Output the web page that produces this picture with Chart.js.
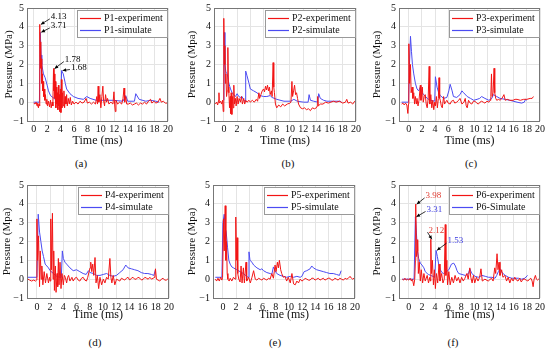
<!DOCTYPE html>
<html>
<head>
<meta charset="utf-8">
<script src="https://cdn.jsdelivr.net/npm/chart.js@4.4.1/dist/chart.umd.min.js"></script>
<style>
  body { margin: 0; background: #fff; width: 550px; height: 349px; position: relative; overflow: hidden; font-family: "Liberation Serif", serif; }
  canvas { position: absolute; }
  .cap { position: absolute; font-size: 11px; color: #111; transform: translate(-50%, -50%); white-space: nowrap; }
</style>
</head>
<body>
<script>
// tick values shared by all six panels
const xTicks = [0, 2, 4, 6, 8, 10, 12, 14, 16, 18, 20];
const yTicks = [-1, 0, 1, 2, 3, 4, 5];

// series as [time (ms), pressure (MPa)]
const p1Exp = [[0,-0.05],[0.2,-0.1],[0.35,0],[0.5,-0.2],[0.6,-0.05],[0.7,-0.3],[0.8,-0.1],[0.88,-0.2],[0.92,4.13],[0.97,2.6],[1.02,3.2],[1.08,1.8],[1.14,2.3],[1.2,1],[1.26,1.5],[1.32,0.6],[1.4,1.1],[1.48,0.3],[1.56,0.7],[1.65,0.1],[1.75,0.4],[1.85,-0.1],[1.95,0.15],[2.05,-0.2],[2.2,0.05],[2.35,-0.25],[2.5,0.1],[2.6,-0.3],[2.75,0],[2.85,-0.2],[2.95,1.78],[3.02,0.6],[3.08,1.5],[3.15,0.2],[3.22,1.1],[3.3,-0.3],[3.38,0.8],[3.45,-0.1],[3.52,0.5],[3.6,-0.4],[3.68,0.9],[3.75,-0.2],[3.82,0.4],[3.9,-0.5],[3.97,0.7],[4.05,-0.55],[4.12,1.2],[4.2,-0.3],[4.3,0.5],[4.4,-0.2],[4.5,0.6],[4.6,-0.3],[4.7,0.3],[4.8,-0.1],[4.9,0.4],[5,-0.2],[5.15,0.2],[5.3,-0.1],[5.45,0.25],[5.6,-0.15],[5.8,0.05],[6,-0.1],[6.3,0],[6.6,-0.1],[6.9,0.05],[7.2,-0.05],[7.5,0],[7.8,0.2],[8,-0.05],[8.3,0],[8.6,-0.1],[8.9,0],[9.2,-0.1],[9.4,0.3],[9.5,-0.1],[9.6,0.85],[9.7,0],[9.85,0.4],[10,-0.3],[10.15,0.3],[10.3,0.85],[10.4,0.1],[10.55,-0.2],[10.7,0.4],[10.85,0],[11,0.2],[11.2,-0.1],[11.5,0],[11.8,-0.1],[11.95,0.55],[12.05,-0.1],[12.15,-0.5],[12.25,0.1],[12.5,-0.1],[12.8,0],[13.1,-0.1],[13.3,0.2],[13.45,0.75],[13.55,0],[13.7,0.3],[13.85,-0.1],[14.1,-0.1],[14.4,-0.05],[14.7,-0.15],[15,-0.1],[15.3,-0.05],[15.6,-0.15],[15.9,-0.05],[16.2,-0.1],[16.5,0],[16.8,-0.1],[17.1,0.05],[17.4,0.15],[17.6,-0.05],[17.9,0.05],[18.2,-0.05],[18.5,0],[18.8,0.2],[19,0],[19.3,0.05],[19.6,-0.05],[20,-0.05]];
const p1Sim = [[0,0],[0.85,0],[0.98,3.71],[1.1,2.5],[1.2,2],[1.45,1.5],[1.7,1.3],[2,0.9],[2.2,0.6],[2.5,0.35],[2.85,0.25],[3.2,0.15],[3.7,0.05],[4.05,0],[4.15,1.68],[4.4,1.5],[4.7,1],[4.9,0.7],[5.4,0.45],[5.9,0.3],[6.6,0.2],[7.4,0.15],[7.9,0.3],[8.4,0.2],[9.3,0.1],[10.8,0.1],[11.8,0.1],[13.3,0.05],[13.7,0.35],[14,0.05],[15,0.05],[15.2,0.45],[15.7,0.15],[16.7,0.05],[17.4,0.1],[18.2,0.05],[18.7,0]];

const p2Exp = [[-1.3,-0.1],[-1.1,0],[-0.95,-0.15],[-0.8,0.1],[-0.75,0.5],[-0.7,-0.05],[-0.5,0.05],[-0.35,-0.1],[-0.2,0.1],[-0.1,-0.5],[-0.03,0],[0,4.45],[0.08,2],[0.15,3],[0.22,1],[0.3,1.5],[0.4,0.3],[0.5,0.6],[0.6,2.9],[0.68,0.8],[0.75,0.5],[0.85,-0.3],[0.95,0.3],[1,-0.6],[1.1,0.5],[1.2,-0.65],[1.3,0.3],[1.4,-0.3],[1.5,0.9],[1.6,-0.1],[1.75,0.2],[1.85,-0.2],[2,0.3],[2.15,-0.1],[2.3,0.2],[2.5,0],[2.65,0.3],[2.8,-0.1],[3,0.2],[3.15,-0.1],[3.3,0.1],[3.5,0],[3.8,0.1],[4,0],[4.3,0.1],[4.6,0],[4.9,0.15],[5.1,0.05],[5.3,0.5],[5.4,0.2],[5.6,0.4],[5.8,0.6],[6,0.7],[6.15,0.55],[6.3,0.85],[6.45,0.65],[6.6,0.9],[6.75,0.6],[6.9,0.8],[7,0.4],[7.2,0.6],[7.3,0.3],[7.45,2.1],[7.55,0.8],[7.65,0.5],[7.8,-0.1],[8,-0.3],[8.3,-0.15],[8.6,-0.25],[8.9,-0.1],[9.2,-0.2],[9.6,-0.1],[10,-0.05],[10.15,0],[10.3,1.1],[10.4,0.3],[10.55,0.6],[10.7,0.9],[10.85,0.4],[11,0.5],[11.15,0.2],[11.3,-0.1],[11.6,-0.3],[11.9,-0.35],[12.2,-0.3],[12.5,-0.4],[12.8,-0.35],[13.1,-0.45],[13.4,-0.3],[13.7,-0.35],[14,-0.3],[14.15,-0.2],[14.2,0.3],[14.3,-0.2],[14.6,-0.1],[15,-0.1],[15.4,0],[15.8,-0.05],[16.2,0],[16.6,0.05],[17,0],[17.5,0.05],[18,-0.05],[18.4,0],[18.6,0.15],[18.8,-0.05],[19.2,0],[19.5,-0.1],[19.8,0.05],[20,0.1]];
const p2Sim = [[0,0.1],[0.05,3.7],[0.15,2],[0.3,1.6],[0.5,1.5],[0.75,1],[1,0.7],[1.25,0.5],[1.5,0.4],[1.75,0.3],[2,0.45],[2.25,0.3],[2.5,0.25],[2.75,0.3],[3,0.1],[3.2,0.05],[3.3,1.65],[3.5,1.4],[3.8,1],[4,0.7],[4.5,0.6],[5,0.5],[5.5,0.35],[6,0.3],[6.5,0.3],[7,0.35],[7.3,0.25],[8,0.15],[9.1,0.05],[10.1,0.05],[10.6,0.15],[11.1,0.05],[12.1,0],[12.75,0],[12.9,0.4],[13.1,0.1],[13.6,0.05],[14.2,0],[14.35,0.45],[14.6,0.2],[15.1,0.1],[15.6,0.05],[16.6,0.05],[17.6,0.05],[17.8,0]];

const p3Exp = [[-1.1,-0.1],[-0.9,-0.05],[-0.7,-0.15],[-0.5,-0.05],[-0.3,-0.15],[-0.15,-0.6],[-0.05,-0.1],[0,3.1],[0.12,1],[0.25,2],[0.35,0.5],[0.5,0.8],[0.62,0.2],[0.75,0.5],[0.88,-0.1],[1,0.3],[1.15,-0.1],[1.25,0.2],[1.4,-0.2],[1.55,0.1],[1.75,0.9],[1.85,0.1],[2.05,0.8],[2.2,0],[2.35,0.3],[2.5,0.4],[2.65,-0.1],[2.8,-0.3],[2.95,0.2],[3.1,1.9],[3.2,-0.1],[3.35,0.4],[3.5,-0.3],[3.65,0.1],[3.8,-0.4],[3.95,0],[4.05,-0.2],[4.2,0.3],[4.35,-0.3],[4.5,0.2],[4.6,1.3],[4.7,0.2],[4.8,0.1],[4.95,-0.2],[5.1,-0.3],[5.3,0.3],[5.45,-0.1],[5.6,0],[5.8,0.1],[6,-0.05],[6.3,-0.1],[6.5,0.05],[6.8,0.1],[7,-0.05],[7.3,0],[7.6,0.1],[7.8,0.2],[8.1,-0.1],[8.4,0],[8.6,0.2],[8.75,-0.2],[8.9,-0.3],[9.1,0.1],[9.35,-0.05],[9.6,-0.1],[9.85,0.05],[10.1,0.05],[10.35,-0.05],[10.6,-0.1],[10.85,0],[11.1,0.05],[11.35,0],[11.6,-0.05],[11.9,0.05],[12.2,0],[12.4,0.1],[12.5,0.3],[12.6,1.5],[12.7,0.3],[12.85,0.5],[13,1.8],[13.1,0.5],[13.25,0.2],[13.4,0.1],[13.7,0.15],[13.9,0.1],[14.2,0.2],[14.5,0.4],[14.7,0.1],[15,0.15],[15.4,0.1],[15.9,0.1],[16.2,0.15],[16.5,0.15],[17,0.1],[17.5,0.15],[18,0.15],[18.5,0.2],[18.8,0.2],[19,0.3]];
const p3Sim = [[-1.1,0],[-0.05,0],[0.1,2],[0.25,3.5],[0.4,2.7],[0.55,2],[0.75,1.5],[1,1],[1.25,0.7],[1.5,0.6],[1.75,0.8],[2,0.5],[2.3,0.4],[2.8,0.2],[3.3,0.1],[3.95,0.05],[4.05,1.35],[4.3,0.8],[4.55,0.5],[4.8,0.35],[5.3,0.2],[5.8,0.25],[6.1,0.6],[6.3,0.95],[6.6,0.6],[6.8,0.3],[7.3,0.25],[7.8,0.4],[8.1,0.6],[8.35,0.5],[8.9,0.3],[9.4,0.2],[9.9,0.1],[10.4,0.15],[10.8,0.2],[11.1,0.3],[11.6,0.2],[12.2,0.1],[12.65,0.2],[12.9,0.4],[13.4,0.3],[13.9,0.2],[14.7,0.15],[15.4,0.1],[16.5,0],[17.2,-0.05],[17.6,0],[17.8,0.15],[18,0.1]];

const p4Exp = [[-1.35,0],[-1.1,-0.05],[-0.8,-0.1],[-0.5,-0.05],[-0.2,-0.1],[-0.05,-0.05],[0,3.2],[0.1,1],[0.25,2.3],[0.4,-0.4],[0.5,1.5],[0.65,0],[0.75,0.7],[0.9,-0.3],[1.1,0.4],[1.3,-0.2],[1.5,0.3],[1.75,-0.2],[1.9,0.1],[2,-0.1],[2.1,3.2],[2.2,0.5],[2.35,3.5],[2.45,0],[2.55,1.5],[2.65,-0.6],[2.8,0.7],[2.9,-0.7],[3.05,0.3],[3.15,-0.4],[3.25,1.1],[3.35,-0.3],[3.5,0.9],[3.65,-0.5],[3.8,0.3],[4,-0.3],[4.15,0.2],[4.3,0.1],[4.5,-0.2],[4.65,0.1],[4.8,0.2],[5,-0.1],[5.3,0.1],[5.5,-0.1],[5.75,0.05],[6,0.1],[6.25,-0.05],[6.5,-0.1],[6.75,0.05],[7,0.1],[7.25,-0.05],[7.5,-0.1],[7.7,0.1],[7.9,0.4],[8.05,0.6],[8.15,0.9],[8.3,0.4],[8.45,0.8],[8.6,0.2],[8.8,1.15],[8.95,-0.2],[9.15,0.2],[9.35,-0.5],[9.55,0.1],[9.8,-0.3],[10.05,0],[10.3,-0.2],[10.55,0.1],[10.8,0],[11.05,1.1],[11.2,0.1],[11.35,-0.2],[11.55,0.2],[11.8,-0.3],[12.05,0],[12.3,-0.05],[12.55,-0.1],[12.8,0.05],[13.05,0],[13.3,-0.05],[13.55,0.05],[13.8,0.1],[14.05,-0.05],[14.3,0.05],[14.55,0.1],[14.8,0],[15.05,0],[15.3,0.1],[15.6,0.05],[15.85,-0.05],[16.1,0],[16.35,0.1],[16.6,0.05],[16.85,0],[17.1,0.1],[17.35,0],[17.6,0.05],[17.85,0.1],[17.95,0.55],[18.1,0],[18.35,-0.05],[18.6,-0.1],[18.85,0],[19.1,0.05],[19.35,-0.05],[19.6,-0.05],[19.8,0],[20,-0.05]];
const p4Sim = [[-1.35,0.1],[0,0.1],[0.2,3.45],[0.4,2.5],[0.6,2],[0.8,1.5],[1,1.2],[1.25,0.8],[1.5,0.7],[1.75,0.6],[2,0.45],[2.5,0.3],[3,0.15],[3.5,0.1],[3.7,0.1],[3.85,1.5],[4,1.1],[4.25,0.9],[4.5,0.8],[5,0.6],[5.5,0.45],[6,0.5],[6.5,0.4],[7,0.3],[7.45,0.25],[7.8,0.45],[8.05,0.35],[8.55,0.3],[9.05,0.2],[9.55,0.2],[10.05,0.25],[10.55,0.3],[11.05,0.2],[11.55,0.15],[12.05,0.2],[12.55,0.35],[13.05,0.5],[13.45,0.75],[13.8,0.6],[14.3,0.55],[14.8,0.5],[15.3,0.45],[15.8,0.35],[16.3,0.3],[16.8,0.3],[17.35,0.25],[17.7,0.2],[17.95,0.5]];

const p5Exp = [[-1.15,0],[-0.95,-0.1],[-0.75,0.05],[-0.55,-0.1],[-0.35,0.1],[-0.15,-0.05],[-0.05,0.1],[0.1,3.2],[0.2,1.5],[0.35,3.9],[0.45,1],[0.55,2],[0.65,0.3],[0.75,0],[0.95,-0.1],[1.1,0.05],[1.35,-0.1],[1.6,0.1],[1.85,0],[1.95,3.3],[2.05,1],[2.15,2.2],[2.25,0.3],[2.4,0],[2.6,-0.15],[2.75,0.7],[2.9,-0.2],[3.1,0.6],[3.25,-0.2],[3.5,0.9],[3.6,-0.1],[3.9,0.1],[4.15,-0.2],[4.4,0.1],[4.65,0.45],[4.9,0],[5.15,-0.05],[5.4,0.05],[5.65,0],[5.9,-0.05],[6.15,0.05],[6.4,0],[6.65,-0.05],[6.9,0.05],[7.15,0],[7.4,0.3],[7.65,0.05],[7.9,0.75],[8.05,0.4],[8.25,0.9],[8.4,0.6],[8.55,1],[8.75,0.5],[8.9,0.3],[9.15,0.1],[9.4,0.15],[9.65,-0.1],[9.9,0.1],[10.2,-0.2],[10.45,0.3],[10.7,-0.25],[10.95,-0.3],[11.2,-0.1],[11.45,-0.2],[11.7,0],[11.95,-0.1],[12.2,-0.05],[12.45,0.05],[12.7,0],[12.95,-0.05],[13.2,-0.05],[13.45,0.05],[13.7,0.05],[13.95,-0.05],[14.2,0],[14.45,0.05],[14.7,-0.05],[14.95,0],[15.2,0.05],[15.45,-0.05],[15.7,0],[15.95,0.05],[16.2,0.05],[16.45,-0.05],[16.7,-0.05],[16.95,0.05],[17.2,0],[17.45,-0.05],[17.7,0.05],[17.95,0],[18.25,-0.05],[18.5,0.05],[18.75,0],[19,0.05],[19.25,0.15],[19.45,0.05],[19.65,0],[19.85,0.05],[20,-0.05]];
const p5Sim = [[-1.15,0.1],[-0.15,0.1],[0,3],[0.2,3.45],[0.35,2.7],[0.5,2.5],[0.7,1.7],[0.9,1],[1.1,0.8],[1.35,0.65],[1.6,0.6],[2.1,0.5],[2.6,0.4],[3.1,0.3],[3.6,0.15],[3.8,0.1],[3.95,1.45],[4.1,1],[4.4,0.9],[4.65,0.75],[5.15,0.6],[5.65,0.5],[5.9,0.55],[6.15,0.45],[6.65,0.35],[7.15,0.3],[7.4,0.25],[7.65,0.65],[7.9,0.45],[8.15,0.3],[8.65,0.2],[9.15,0.15],[9.65,0.1],[10.2,0.15],[10.7,0.1],[11.2,0.15],[11.7,0.1],[11.95,0.15],[12.3,0.4],[12.7,0.45],[13.2,0.55],[13.45,0.7],[13.7,0.6],[14.2,0.5],[14.7,0.45],[15.2,0.4],[15.7,0.35],[16.2,0.3],[16.7,0.3],[17.2,0.25],[17.65,0.2],[17.9,0.45]];

const p6Exp = [[-1,0],[-0.8,-0.05],[-0.6,0.05],[-0.4,-0.05],[-0.2,0],[0,-0.05],[0.2,0.05],[0.4,-0.1],[0.55,0],[0.75,-0.35],[0.9,0],[1,1],[1.05,3.98],[1.15,1.2],[1.25,1.5],[1.35,2.1],[1.45,0.3],[1.6,0.9],[1.75,-0.1],[1.9,0.5],[2.1,-0.2],[2.3,0.3],[2.5,-0.1],[2.8,0.2],[3,-0.2],[3.2,0.1],[3.3,-0.1],[3.35,2.12],[3.45,0.3],[3.6,1],[3.75,-0.3],[3.9,0.5],[4.05,-0.5],[4.2,0.3],[4.4,-0.2],[4.6,0.8],[4.75,-0.1],[5,0.3],[5.2,-0.2],[5.4,0],[5.55,2.9],[5.65,0.2],[5.8,1],[5.9,-0.3],[6.1,0.4],[6.3,-0.3],[6.55,0.1],[6.8,-0.2],[7.05,0.2],[7.3,-0.1],[7.55,0.1],[7.8,-0.2],[8.05,0.1],[8.3,-0.1],[8.55,0.05],[8.85,0.3],[9.05,0],[9.3,0.6],[9.45,0.1],[9.65,-0.2],[9.85,0.2],[10.05,-0.2],[10.3,0.1],[10.55,-0.1],[10.8,0.1],[11,0.55],[11.2,-0.1],[11.6,0],[12.1,-0.1],[12.6,0.05],[12.85,-0.1],[13.1,0.6],[13.25,0.3],[13.45,1.35],[13.6,0.5],[13.75,0.9],[13.9,0.2],[14.15,0.5],[14.35,0.1],[14.65,0.2],[14.9,-0.1],[15.15,0.1],[15.4,-0.2],[15.65,0.05],[15.9,-0.1],[16.15,0.1],[16.4,-0.05],[16.65,-0.1],[16.9,0.05],[17.15,-0.15],[17.4,0],[17.65,0],[17.9,-0.05],[18.15,-0.1],[18.4,0],[18.6,0.05],[18.8,-0.1],[18.95,-0.4],[19.1,0],[19.3,0.2],[19.45,0],[19.6,-0.05],[19.8,0],[20,-0.05]];
const p6Sim = [[-1,0],[0.8,0],[1,3.31],[1.15,2.5],[1.3,1.5],[1.5,1.1],[1.75,0.85],[2,0.75],[2.3,0.6],[2.5,0.4],[2.8,0.3],[3,0.25],[3.3,0.2],[3.7,0.15],[3.95,0.1],[4.15,1.53],[4.35,1.2],[4.55,0.8],[4.8,0.5],[5.05,0.35],[5.3,0.3],[5.55,0.35],[6.1,0.5],[6.5,0.8],[6.85,0.85],[7.1,0.7],[7.35,0.45],[7.6,0.3],[8.1,0.25],[8.6,0.2],[9.1,0.3],[9.3,0.55],[9.6,0.3],[10.1,0.15],[10.6,0.1],[11.15,0.2],[11.65,0.15],[12.15,0.1],[12.65,0.1],[13.15,0.05],[13.4,0.2],[13.65,0.4],[13.9,0.55],[14.2,0.35],[14.7,0.2],[15.2,0.1],[15.7,0.05],[16.2,0.05],[16.7,0.05],[17.2,0],[17.7,0.05],[18.1,0.2]];

// peak call-outs: value point, label anchor (data units), label text
const p1Notes = [
  { at: [0.92, 4.13], pos: [2.55, 4.53], text: "4.13", kind: "plain" },
  { at: [0.98, 3.71], pos: [2.55, 4.05], text: "3.71", kind: "plain" },
  { at: [2.95, 1.78], pos: [4.64, 2.26], text: "1.78", kind: "plain" },
  { at: [4.15, 1.68], pos: [5.54, 1.84], text: "1.68", kind: "plain" }
];
const p6Notes = [
  { at: [1.05, 3.98], pos: [2.55, 4.42], text: "3.98", kind: "exp" },
  { at: [1.0, 3.31], pos: [2.7, 3.7], text: "3.31", kind: "sim" },
  { at: [3.35, 2.12], pos: [3.0, 2.6], text: "2.12", kind: "exp" },
  { at: [4.15, 1.53], pos: [5.9, 2.02], text: "1.53", kind: "sim" }
];

const RED = "#f21414";
const BLUE = "#4b4bf2";
const noteColor = { plain: "#000", exp: "#e03a30", sim: "#3a3ae0" };

// layout: plot box [left, top, right, bottom] in page px
const panels = [
  { exp: p1Exp, sim: p1Sim, names: ["P1-experiment", "P1-simulate"], yTitle: "Pressure (MPa)", notes: p1Notes, xMin: -1, box: [27, 7, 168, 121], yTitleX: 10, xTitleY: 141, cap: "(a)", capAt: [81, 163] },
  { exp: p2Exp, sim: p2Sim, names: ["P2-experiment", "P2-simulate"], yTitle: "Pressure (Mpa)", notes: [], xMin: -1.5, box: [214, 7, 356, 121], yTitleX: 193, xTitleY: 141, cap: "(b)", capAt: [288, 163] },
  { exp: p3Exp, sim: p3Sim, names: ["P3-experiment", "P3-simulate"], yTitle: "Pressure (Mpa)", notes: [], xMin: -1.5, box: [399, 7, 540, 121], yTitleX: 378, xTitleY: 141, cap: "(c)", capAt: [471, 163] },
  { exp: p4Exp, sim: p4Sim, names: ["P4-experiment", "P4-simulate"], yTitle: "Pressure (Mpa)", notes: [], xMin: -1.5, box: [27, 184, 169, 298], yTitleX: 8, xTitleY: 315, cap: "(d)", capAt: [95, 342] },
  { exp: p5Exp, sim: p5Sim, names: ["P5-experiment", "P5-simulate"], yTitle: "Pressure (Mpa)", notes: [], xMin: -1.5, box: [213, 184, 355, 298], yTitleX: 193, xTitleY: 315, cap: "(e)", capAt: [275, 342] },
  { exp: p6Exp, sim: p6Sim, names: ["P6-experiment", "P6-Simulate"], yTitle: "Pressure (MPa)", notes: p6Notes, xMin: -1.5, box: [399, 184, 540, 298], yTitleX: 378, xTitleY: 315, cap: "(f)", capAt: [453, 342] }
];

const FONT = '"Liberation Serif", "Times New Roman", serif';
const TITLE_SIZE = 11;
const LH = TITLE_SIZE * 1.2;
const INK = "#111";

function drawArrow(ctx, x1, y1, x2, y2) {
  ctx.beginPath();
  ctx.moveTo(x1, y1);
  ctx.lineTo(x2, y2);
  ctx.stroke();
  const a = Math.atan2(y2 - y1, x2 - x1), h = 4;
  ctx.beginPath();
  ctx.moveTo(x2, y2);
  ctx.lineTo(x2 - h * Math.cos(a - 0.45), y2 - h * Math.sin(a - 0.45));
  ctx.lineTo(x2 - h * Math.cos(a + 0.45), y2 - h * Math.sin(a + 0.45));
  ctx.closePath();
  ctx.fill();
}

const framePlugin = {
  id: "frame",
  afterDraw(chart, args, opts) {
    const { ctx, chartArea: ca } = chart;
    const xs = chart.scales.x, ys = chart.scales.y;
    ctx.save();
    // box round the plot
    ctx.strokeStyle = "#777";
    ctx.lineWidth = 1;
    ctx.strokeRect(Math.round(ca.left) + 0.5, Math.round(ca.top) + 0.5, Math.round(ca.width) - 1, Math.round(ca.height));

    // call-outs
    ctx.font = "9px " + FONT;
    ctx.textBaseline = "middle";
    ctx.textAlign = "left";
    ctx.lineWidth = 0.8;
    opts.notes.forEach(n => {
      const c = noteColor[n.kind];
      const px = xs.getPixelForValue(n.at[0]), py = ys.getPixelForValue(n.at[1]);
      const tx = xs.getPixelForValue(n.pos[0]), ty = ys.getPixelForValue(n.pos[1]);
      ctx.fillStyle = c;
      ctx.fillText(n.text, tx, ty);
      ctx.strokeStyle = "#000";
      ctx.fillStyle = "#000";
      drawArrow(ctx, tx - 1, ty + 2, px + 1, py);
    });

    // legend box in the top right corner
    const sets = chart.data.datasets;
    ctx.font = "10px " + FONT;
    const tw = Math.max(...sets.map(d => ctx.measureText(d.label).width));
    const w = Math.round(27 + tw + 4), h = 27;
    const x0 = Math.round(ca.right) - w - 1, y0 = Math.round(ca.top) + 2;
    ctx.fillStyle = "#fff";
    ctx.fillRect(x0, y0, w, h);
    ctx.strokeStyle = "#999";
    ctx.lineWidth = 1;
    ctx.strokeRect(x0 + 0.5, y0 + 0.5, w, h);
    sets.forEach((d, i) => {
      const y = y0 + 8 + i * 12;
      ctx.strokeStyle = d.borderColor;
      ctx.lineWidth = 1.2;
      ctx.beginPath();
      ctx.moveTo(x0 + 3, y + 0.5);
      ctx.lineTo(x0 + 24, y + 0.5);
      ctx.stroke();
      ctx.fillStyle = INK;
      ctx.fillText(d.label, x0 + 27, y);
    });
    ctx.restore();
  }
};

const pts = arr => arr.map(([x, y]) => ({ x: x, y: y }));

panels.forEach(p => {
  const [l, t, r, b] = p.box;
  const cl = Math.round(p.yTitleX - LH / 2);
  const ct = t - 8;
  const cw = r - cl + 10;
  const ch = Math.round(p.xTitleY + LH / 2 - ct);
  const canvas = document.createElement("canvas");
  canvas.width = cw;
  canvas.height = ch;
  canvas.style.left = cl + "px";
  canvas.style.top = ct + "px";
  document.body.appendChild(canvas);

  const cap = document.createElement("div");
  cap.className = "cap";
  cap.textContent = p.cap;
  cap.style.left = p.capAt[0] + "px";
  cap.style.top = p.capAt[1] + "px";
  document.body.appendChild(cap);

  const xLabelPad = t < 100 ? 2 : 3;

  new Chart(canvas, {
    type: "line",
    data: {
      datasets: [
        { label: p.names[0], data: pts(p.exp), borderColor: RED, borderWidth: 1 },
        { label: p.names[1], data: pts(p.sim), borderColor: BLUE, borderWidth: 1 }
      ]
    },
    options: {
      responsive: false,
      animation: false,
      devicePixelRatio: 1,
      layout: { padding: { top: 8, right: 10, left: 0, bottom: 0 } },
      elements: { point: { radius: 0 }, line: { tension: 0 } },
      scales: {
        x: {
          type: "linear",
          min: p.xMin,
          max: 20,
          afterBuildTicks: s => { s.ticks = xTicks.map(v => ({ value: v })); },
          afterFit: s => { s.height = ch - (b - ct); },
          grid: { color: "#e4e4e4", drawTicks: false },
          border: { display: false },
          ticks: { padding: xLabelPad, color: INK, font: { family: FONT, size: 10 }, maxRotation: 0, autoSkip: false },
          title: { display: true, text: "Time (ms)", color: INK, padding: 0, font: { family: FONT, size: 12 } }
        },
        y: {
          min: -1,
          max: 5,
          afterBuildTicks: s => { s.ticks = yTicks.map(v => ({ value: v })); },
          afterFit: s => { s.width = l - cl; },
          grid: { color: "#e4e4e4", drawTicks: false },
          border: { display: false },
          ticks: { padding: 3, color: INK, font: { family: FONT, size: 10 }, callback: v => String(v).replace("-", "\u2212") },
          title: { display: true, text: p.yTitle, color: INK, padding: 0, font: { family: FONT, size: TITLE_SIZE } }
        }
      },
      plugins: {
        legend: { display: false },
        tooltip: { enabled: false },
        frame: { notes: p.notes }
      }
    },
    plugins: [framePlugin]
  });
});
</script>
</body>
</html>
